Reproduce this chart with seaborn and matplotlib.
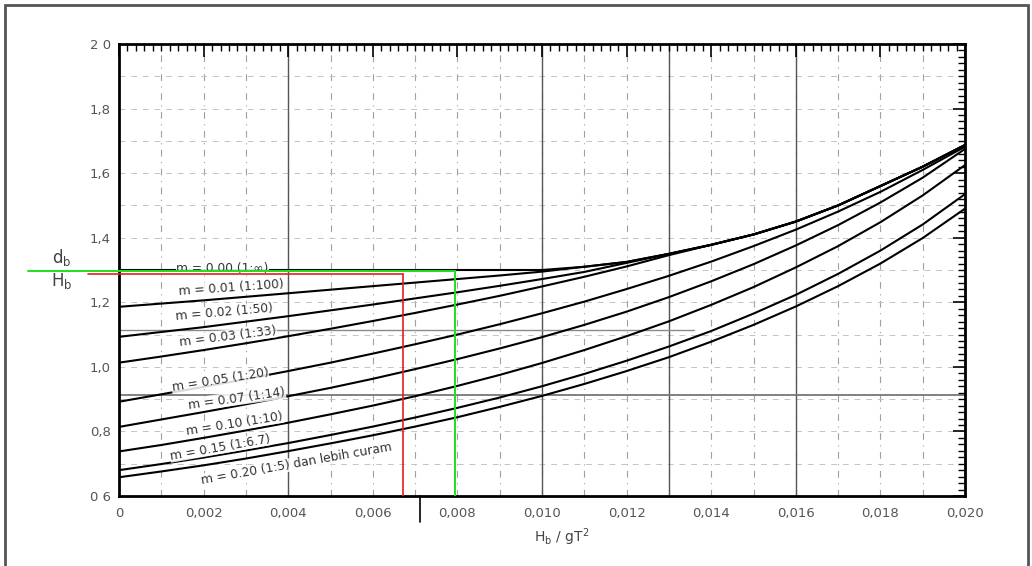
import numpy as np
import pandas as pd
import matplotlib
matplotlib.use("Agg")
import matplotlib.pyplot as plt
from matplotlib.patches import Rectangle
from matplotlib.ticker import MultipleLocator
import seaborn as sns

# ---------------- data ----------------
hb_gt2 = [0.000, 0.001, 0.002, 0.003, 0.004, 0.005, 0.006, 0.007, 0.008, 0.009, 0.010,
          0.011, 0.012, 0.013, 0.014, 0.015, 0.016, 0.017, 0.018, 0.019, 0.020]

m000 = [1.300, 1.300, 1.300, 1.300, 1.300, 1.300, 1.300, 1.300, 1.300, 1.300, 1.300,
        1.310, 1.325, 1.350, 1.378, 1.410, 1.450, 1.500, 1.560, 1.620, 1.687]
m001 = [1.186, 1.196, 1.206, 1.217, 1.228, 1.239, 1.250, 1.261, 1.272, 1.283, 1.295,
        1.310, 1.325, 1.350, 1.378, 1.410, 1.450, 1.500, 1.560, 1.620, 1.687]
m002 = [1.093, 1.108, 1.123, 1.140, 1.157, 1.175, 1.193, 1.212, 1.231, 1.251, 1.272,
        1.294, 1.322, 1.350, 1.378, 1.410, 1.450, 1.500, 1.560, 1.620, 1.687]
m003 = [1.013, 1.032, 1.052, 1.073, 1.095, 1.118, 1.142, 1.167, 1.193, 1.220, 1.249,
        1.279, 1.311, 1.346, 1.378, 1.410, 1.450, 1.500, 1.560, 1.620, 1.687]
m005 = [0.892, 0.915, 0.938, 0.962, 0.987, 1.013, 1.041, 1.070, 1.100, 1.132, 1.166,
        1.202, 1.241, 1.282, 1.326, 1.374, 1.425, 1.481, 1.542, 1.610, 1.682]
m007 = [0.814, 0.837, 0.860, 0.884, 0.909, 0.935, 0.963, 0.993, 1.024, 1.057, 1.092,
        1.130, 1.171, 1.216, 1.265, 1.318, 1.376, 1.439, 1.509, 1.586, 1.675]
m010 = [0.738, 0.758, 0.780, 0.803, 0.827, 0.853, 0.880, 0.909, 0.941, 0.975, 1.012,
        1.052, 1.095, 1.141, 1.192, 1.247, 1.308, 1.374, 1.448, 1.531, 1.625]
m015 = [0.680, 0.699, 0.719, 0.741, 0.764, 0.789, 0.815, 0.843, 0.873, 0.905, 0.940,
        0.978, 1.019, 1.063, 1.111, 1.165, 1.223, 1.288, 1.360, 1.441, 1.535]
m020 = [0.658, 0.676, 0.695, 0.716, 0.739, 0.763, 0.788, 0.815, 0.844, 0.876, 0.910,
        0.947, 0.987, 1.030, 1.078, 1.130, 1.187, 1.250, 1.320, 1.399, 1.490]

curve_names = ["m = 0.00 (1:∞)", "m = 0.01 (1:100)", "m = 0.02 (1:50)", "m = 0.03 (1:33)",
               "m = 0.05 (1:20)", "m = 0.07 (1:14)", "m = 0.10 (1:10)", "m = 0.15 (1:6.7)",
               "m = 0.20 (1:5) dan lebih curam"]
curve_values = [m000, m001, m002, m003, m005, m007, m010, m015, m020]

# label anchor positions (x, y) and rotation for each curve name
label_x = [0.00245, 0.00265, 0.00250, 0.00258, 0.00239, 0.00279, 0.00274, 0.00239, 0.00420]
label_y = [1.305, 1.246, 1.169, 1.094, 0.960, 0.902, 0.824, 0.751, 0.700]
label_rot = [0, 4, 5, 7, 9, 8, 9, 10, 10]

xticks = [0.000, 0.002, 0.004, 0.006, 0.008, 0.010, 0.012, 0.014, 0.016, 0.018, 0.020]
xtick_labels = ["0", "0,002", "0,004", "0,006", "0,008", "0,010", "0,012", "0,014",
                "0,016", "0,018", "0,020"]
yticks = [0.6, 0.8, 1.0, 1.2, 1.4, 1.6, 1.8, 2.0]
ytick_labels = ["0 6", "0,8", "1,0", "1,2", "1,4", "1,6", "1,8", "2 0"]

# reading guide lines (green and red)
green_x, green_y = 0.00794, 1.297
red_x, red_y = 0.00671, 1.287

# ---------------- build ----------------
rows = []
for name, vals in zip(curve_names, curve_values):
    for xv, yv in zip(hb_gt2, vals):
        rows.append({"x": xv, "y": yv, "curve": name})
df = pd.DataFrame(rows)

sns.set_theme(style="white")
plt.rcParams["font.family"] = ["DejaVu Sans"]

W, H = 1032, 566
fig = plt.figure(figsize=(W / 100, H / 100), dpi=100)
ax = fig.add_axes([119 / W, 1 - 496 / H, (965 - 119) / W, (496 - 44) / H])
ax.set_facecolor("white")

ax.set_xlim(0, 0.020)
ax.set_ylim(0.6, 2.0)

# background graph-paper grid
for gx in np.arange(0.001, 0.020, 0.001):
    ax.axvline(gx, color="#a0a0a0", lw=0.8, ls=(0, (6, 5, 1, 5)), zorder=0)
for gy in np.arange(0.7, 2.0, 0.1):
    ax.axhline(gy, color="#c4c4c4", lw=0.7, ls=(0, (6, 6)), zorder=0)
for gx in [0.004, 0.010, 0.013, 0.016]:
    ax.axvline(gx, color="#555555", lw=1.0, zorder=0.5)
ax.axhline(0.912, color="#777777", lw=1.3, zorder=0.5)
ax.axhline(1.113, xmax=0.68, color="#8a8a8a", lw=1.0, zorder=0.5)

palette = {n: "black" for n in curve_names}
sns.lineplot(data=df, x="x", y="y", hue="curve", palette=palette, legend=False,
             estimator=None, sort=False, lw=1.5, ax=ax, zorder=3)

for name, lx, ly, rot in zip(curve_names, label_x, label_y, label_rot):
    ax.text(lx, ly, name, fontsize=8.8, color="#333333", rotation=rot,
            ha="center", va="center", zorder=4,
            bbox=dict(facecolor="white", edgecolor="none", pad=0.2, alpha=0.85))

# guide lines
ax.plot([-0.00215, green_x], [green_y, green_y], color="#22dd22", lw=1.4, clip_on=False, zorder=5)
ax.plot([green_x, green_x], [0.6, green_y], color="#22dd22", lw=1.4, zorder=5)
ax.plot([-0.00073, red_x], [red_y, red_y], color="#e02020", lw=1.2, clip_on=False, zorder=5)
ax.plot([red_x, red_x], [0.6, red_y], color="#e02020", lw=1.2, zorder=5)
ax.plot([0.00712, 0.00712], [0.6, 0.52], color="black", lw=1.2, clip_on=False, zorder=5)

# ticks
ax.set_xticks(xticks)
ax.set_xticklabels(xtick_labels)
ax.set_yticks(yticks)
ax.set_yticklabels(ytick_labels)
ax.xaxis.set_minor_locator(MultipleLocator(0.0002))
ax.yaxis.set_minor_locator(MultipleLocator(0.02))
ax.tick_params(axis="both", which="major", direction="in", length=9, width=1.2,
               top=True, right=True, colors="black", labelcolor="#555555", labelsize=9.5)
ax.tick_params(axis="both", which="minor", direction="in", length=5, width=1.0,
               top=True, right=True, color="black")
ax.tick_params(axis="x", which="major", pad=8)
ax.tick_params(axis="y", which="major", pad=6)
for sp in ax.spines.values():
    sp.set_color("black")
    sp.set_linewidth(2)
ax.set_xlabel("")
ax.set_ylabel("")

# axis titles
fig.text(62 / W, 1 - 257 / H, r"$\mathrm{d_b}$", fontsize=12,
         color="#444444", ha="center", va="center")
fig.text(62 / W, 1 - 281 / H, r"$\mathrm{H_b}$", fontsize=12,
         color="#444444", ha="center", va="center")
fig.text(562 / W, 1 - 537 / H, r"$\mathrm{H_b\ /\ gT^2}$", fontsize=10,
         color="#444444", ha="center", va="center")

# outer frame of the scan
fig.patches.append(Rectangle((5 / W, -0.02), (1028 - 5) / W, 1 - 5 / H + 0.02,
                             transform=fig.transFigure, fill=False,
                             edgecolor="#555555", lw=2))

fig.savefig("out.png", dpi=100)
